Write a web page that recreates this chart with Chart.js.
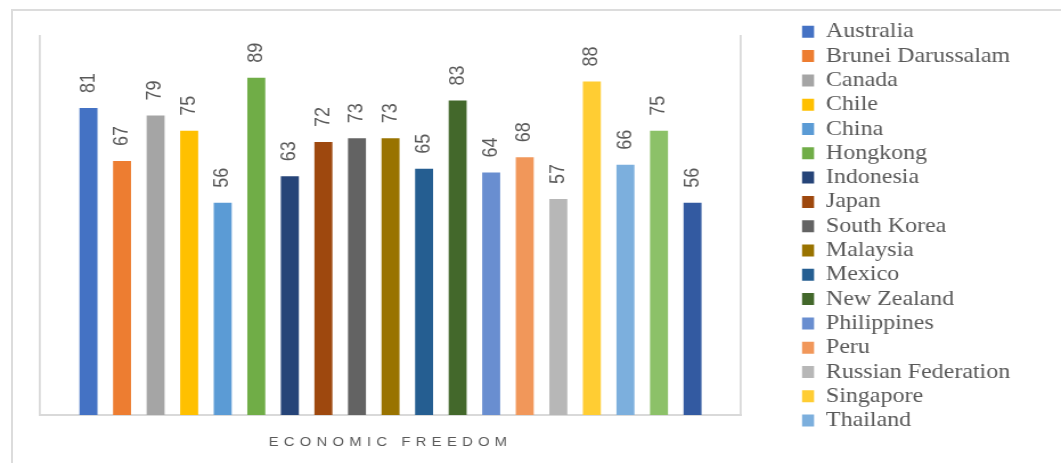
<!DOCTYPE html>
<html lang="en">
<head>
  <meta charset="UTF-8">
  <title>Economic Freedom</title>
  <script src="https://cdn.jsdelivr.net/npm/chart.js"></script>
  <style>
    html, body { margin: 0; padding: 0; background: #fff; overflow: hidden; }
    #frame { position: absolute; left: 11px; top: 9px; width: 1100px; height: 500px; border: 2px solid #dcdcdc; }
    /* the original picture is stretched sideways, so the canvas is too */
    #chart { position: absolute; left: 0; top: 0; transform: scaleX(1.1396); transform-origin: 0 0; }
  </style>
</head>
<body>
  <div id="frame"></div>
  <canvas id="chart" width="931" height="463"></canvas>

  <script>
    const category = ['ECONOMIC FREEDOM'];
    const countries = ['Australia', 'Brunei Darussalam', 'Canada', 'Chile', 'China', 'Hongkong',
      'Indonesia', 'Japan', 'South Korea', 'Malaysia', 'Mexico', 'New Zealand', 'Philippines',
      'Peru', 'Russian Federation', 'Singapore', 'Thailand', 'United States', 'Vietnam'];
    const scores = [81, 67, 79, 75, 56, 89, 63, 72, 73, 73, 65, 83, 64, 68, 57, 88, 66, 75, 56];
    const colors = ['#4472C4', '#ED7D31', '#A5A5A5', '#FFC000', '#5B9BD5', '#70AD47',
      '#264478', '#9E480E', '#636363', '#997300', '#255E91', '#43682B', '#698ED0',
      '#F1975A', '#B7B7B7', '#FFCD33', '#7CAFDD', '#8CC168', '#335AA1'];
    const shownInLegend = 17; // legend in the picture is cut after Thailand

    const textGray = '#595959';
    const lineGray = '#d9d9d9';

    // value labels, rotated, above each bar
    const valueLabels = {
      id: 'valueLabels',
      afterDatasetsDraw(chart) {
        const ctx = chart.ctx;
        ctx.save();
        ctx.font = '18px "Liberation Sans", Arial, sans-serif';
        ctx.fillStyle = textGray;
        ctx.textAlign = 'left';
        ctx.textBaseline = 'middle';
        chart.data.datasets.forEach((ds, i) => {
          const bar = chart.getDatasetMeta(i).data[0];
          ctx.save();
          ctx.translate(bar.x, bar.y - 15);
          ctx.rotate(-Math.PI / 2);
          ctx.fillText(String(ds.data[0]), 0, 0);
          ctx.restore();
        });
        ctx.restore();
        // x tick label is drawn after this (ticks.z = 1), spaced out like the original
        ctx.letterSpacing = '4.6px';
      },
      afterDraw(chart) {
        chart.ctx.letterSpacing = '0px';
      }
    };

    const datasets = countries.map((name, i) => ({
      label: name,
      data: [scores[i]],
      backgroundColor: colors[i]
    }));

    new Chart(document.getElementById('chart'), {
      type: 'bar',
      data: { labels: category, datasets: datasets },
      plugins: [valueLabels],
      options: {
        responsive: false,
        animation: false,
        categoryPercentage: 0.9096,
        barPercentage: 0.536,
        layout: { padding: { top: 18, left: 0, right: 34.6, bottom: 9 } },
        plugins: {
          tooltip: { enabled: false },
          title: {
            display: true,
            text: '',
            fullSize: false,
            font: { size: 1 },
            padding: { top: 16.8, bottom: 0 }
          },
          legend: {
            position: 'right',
            align: 'start',
            maxWidth: 300,
            labels: {
              boxWidth: 10.5,
              boxHeight: 12,
              padding: 3.3,
              color: textGray,
              font: { family: '"Liberation Serif", "Times New Roman", serif', size: 21 },
              filter: item => item.datasetIndex < shownInLegend
            }
          }
        },
        scales: {
          x: {
            grid: { display: false },
            border: { display: true, color: lineGray, width: 2 },
            ticks: {
              z: 1,
              padding: 12,
              color: textGray,
              maxRotation: 0,
              font: { family: '"Liberation Sans", Arial, sans-serif', size: 13 }
            },
            afterFit: s => { s.height = 39; }
          },
          y: {
            min: 0,
            max: 100,
            grid: { display: false },
            ticks: { display: false },
            border: { display: true, color: lineGray, width: 1.75 },
            afterFit: s => { s.width = 35.1; }
          },
          // empty right axis: right edge of the plot area and gap to the legend
          y2: {
            position: 'right',
            min: 0,
            max: 100,
            grid: { display: false },
            ticks: { display: false },
            border: { display: true, color: lineGray, width: 1.75 },
            afterFit: s => { s.width = 50.3; }
          }
        }
      }
    });
  </script>
</body>
</html>
